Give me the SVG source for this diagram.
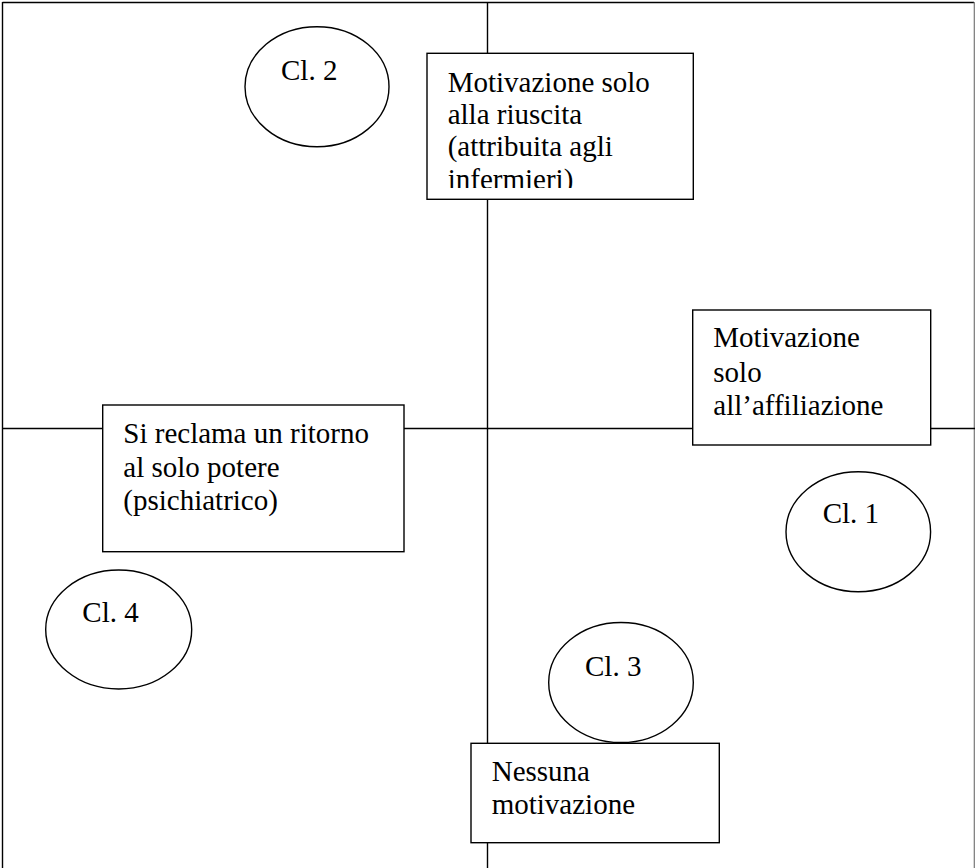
<svg xmlns="http://www.w3.org/2000/svg" width="975" height="868" viewBox="0 0 975 868">
<style>
.ln{stroke:#000;stroke-width:1.4;fill:none}
.box{fill:#fff;stroke:#000;stroke-width:1.4}
.ell{fill:#fff;stroke:#000;stroke-width:1.4}
text{font-family:"Liberation Serif","Times New Roman",serif;font-size:29px;fill:#000}
</style>
<defs>
<clipPath id="clipTop"><rect x="427" y="53" width="266" height="135"/></clipPath>
</defs>
<rect width="975" height="868" fill="#fff"/>
<g id="frame">
<line class="ln" x1="2.5" y1="2.5" x2="974" y2="2.5"/>
<line class="ln" x1="2.5" y1="2" x2="2.5" y2="868"/>
<line x1="974.3" y1="2" x2="974.3" y2="868" stroke="#777" stroke-width="1.2"/>
</g>
<g id="connectors">
<line class="ln" x1="487.5" y1="2" x2="487.5" y2="868"/>
<line class="ln" x1="2.5" y1="428.5" x2="975" y2="428.5"/>
</g>
<g id="node-top">
<rect class="box" x="427" y="53.3" width="266.3" height="146"/>
<g clip-path="url(#clipTop)">
<text x="447.7" y="91.7">Motivazione solo</text>
<text x="447.7" y="123.5">alla riuscita</text>
<text x="447.7" y="156">(attribuita agli</text>
<text x="447.7" y="188.5">infermieri)</text>
</g>
</g>
<g id="node-right">
<rect class="box" x="692.7" y="310" width="238" height="135"/>
<text x="713.3" y="347.3">Motivazione</text>
<text x="713.3" y="381.7">solo</text>
<text x="713.3" y="415">all’affiliazione</text>
</g>
<g id="node-left">
<rect class="box" x="102.7" y="405" width="301.3" height="146.7"/>
<text x="123.3" y="443.3">Si reclama un ritorno</text>
<text x="123.3" y="476.7">al solo potere</text>
<text x="123.3" y="510">(psichiatrico)</text>
</g>
<g id="node-bottom">
<rect class="box" x="471" y="743.3" width="248.3" height="99.4"/>
<text x="491.7" y="780.7">Nessuna</text>
<text x="491.7" y="814">motivazione</text>
</g>
<g id="cl1">
<ellipse class="ell" cx="858.3" cy="531.7" rx="72.3" ry="60"/>
<text x="822.7" y="523">Cl. 1</text>
</g>
<g id="cl2">
<ellipse class="ell" cx="317" cy="86.7" rx="72" ry="60"/>
<text x="281" y="80">Cl. 2</text>
</g>
<g id="cl3">
<ellipse class="ell" cx="621" cy="682.5" rx="72.3" ry="60"/>
<text x="585" y="676">Cl. 3</text>
</g>
<g id="cl4">
<ellipse class="ell" cx="118.7" cy="629.5" rx="73" ry="59.5"/>
<text x="82.3" y="621.7">Cl. 4</text>
</g>
</svg>
